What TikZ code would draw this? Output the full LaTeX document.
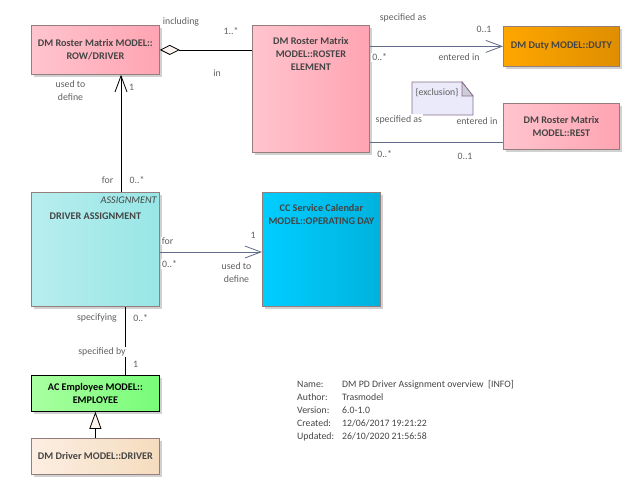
\documentclass[tikz,border=0pt]{standalone}
\usepackage{fontspec}
\setmainfont{Carlito}
\usetikzlibrary{positioning,arrows.meta,shadows}

\definecolor{pinkL}{RGB}{255,196,206}
\definecolor{pinkR}{RGB}{255,164,178}
\definecolor{dutyL}{RGB}{255,166,0}
\definecolor{dutyR}{RGB}{222,142,0}
\definecolor{assignL}{RGB}{184,237,238}
\definecolor{assignR}{RGB}{152,230,230}
\definecolor{dayL}{RGB}{0,206,255}
\definecolor{dayR}{RGB}{0,178,222}
\definecolor{empL}{RGB}{168,255,160}
\definecolor{empR}{RGB}{120,252,120}
\definecolor{drvL}{RGB}{252,238,226}
\definecolor{drvR}{RGB}{245,220,190}
\definecolor{boxline}{RGB}{150,125,125}
\definecolor{boxtext}{RGB}{68,68,68}
\definecolor{lbltext}{RGB}{96,96,96}
\definecolor{linkblue}{RGB}{96,108,136}
\definecolor{notefill}{RGB}{234,234,250}
\definecolor{noteline}{RGB}{140,110,140}
\definecolor{foldfill}{RGB}{205,205,215}
\definecolor{headfill}{RGB}{253,244,240}

\begin{document}
\begin{tikzpicture}[x=1pt,y=-1pt,
  font=\fontsize{9.8}{13}\selectfont,
  classbox/.style={draw=boxline, line width=0.8pt, anchor=north west, inner sep=0pt,
    font=\fontsize{10.2}{13}\selectfont\bfseries, text=boxtext, align=center,
    drop shadow={shadow xshift=3pt, shadow yshift=-3pt, fill=black!18, opacity=1}},
  classname/.style={font=\fontsize{10.2}{13}\selectfont\bfseries, text=boxtext, align=center, inner sep=0pt},
  role/.style={text=lbltext, fill=white, inner sep=1pt, align=center},
  assoc/.style={linkblue, line width=0.8pt},
  link/.style={black, line width=0.8pt},
  openhead/.style={-{Straight Barb[length=16pt,width=12pt]}},
]
\useasboundingbox (0,0) rectangle (630,504);

% classes
\node[classbox, left color=pinkL, right color=pinkR, minimum width=128pt, minimum height=49pt] (rowdriver) at (31,25) {DM Roster Matrix MODEL::\\ROW/DRIVER};
\node[classbox, left color=pinkL, right color=pinkR, minimum width=117pt, minimum height=127pt] (element) at (252,25) {};
\node[classname, below=12pt of element.north] (element-name) {DM Roster Matrix\\MODEL::ROSTER\\ELEMENT};
\node[classbox, left color=dutyL, right color=dutyR, minimum width=116pt, minimum height=40pt] (duty) at (503,26) {DM Duty MODEL::DUTY};
\node[classbox, left color=pinkL, right color=pinkR, minimum width=116pt, minimum height=46pt] (rest) at (503,103) {DM Roster Matrix\\MODEL::REST};
\node[classbox, left color=assignL, right color=assignR, minimum width=128pt, minimum height=114pt] (assign) at (31,192) {};
\node[anchor=north east, inner sep=0pt, text=boxtext, font=\fontsize{10.2}{13}\selectfont\itshape, xshift=-3pt, yshift=-5pt] (assign-stereo) at (assign.north east) {ASSIGNMENT};
\node[classname, below=21pt of assign.north] (assign-name) {DRIVER ASSIGNMENT};
\node[classbox, left color=dayL, right color=dayR, minimum width=118pt, minimum height=114pt] (opday) at (262,192) {};
\node[classname, below=12pt of opday.north] (opday-name) {CC Service Calendar\\MODEL::OPERATING DAY};
\node[classbox, left color=empL, right color=empR, draw=black, text=black, minimum width=128pt, minimum height=36pt] (employee) at (31,375) {AC Employee MODEL::\\EMPLOYEE};
\node[classbox, left color=drvL, right color=drvR, minimum width=128pt, minimum height=36pt] (driver) at (31,438) {DM Driver MODEL::DRIVER};

% note
\filldraw[fill=notefill, draw=noteline, line width=0.8pt] (412,82) -- (462,82) -- (473,96) -- (473,115) -- (412,115) -- cycle;
\filldraw[fill=foldfill, draw=noteline, line width=0.8pt] (462,82) -- (462,96) -- (473,96) -- cycle;
\node[text=lbltext, inner sep=0pt] (exclusion) at (437,93) {\{exclusion\}};

% connectors
\draw[link, {Diamond[length=20pt,width=10pt,fill=headfill]}-] (rowdriver.east) -- (rowdriver.east -| element.west);
\coordinate (upx) at (121,0);
\draw[link, openhead] (assign.north -| upx) -- (rowdriver.south -| upx);
\draw[assoc, openhead] (duty.west -| element.east) -- (duty.west);
\coordinate (resty) at (0,142);
\draw[assoc] (element.east |- resty) -- (rest.west |- resty);
\coordinate (dayy) at (0,252);
\draw[assoc, openhead] (assign.east |- dayy) -- (opday.west |- dayy);
\coordinate (downx) at (125,0);
\draw[link] (assign.south -| downx) -- (employee.north -| downx);
\draw[link, -{Triangle[length=17pt,width=12pt,fill=headfill]}] (driver.north) -- (employee.south);

% roles
\node[role] (r-including) at (181,22) {including};
\node[role] (r-incl-mult) at (231,31) {1..*};
\node[role] (r-in) at (217,73) {in};
\node[role] (r-usedrow) at (70.5,90.5) {used to\\define};
\node[role] (r-row-mult) at (131.5,87) {1};
\node[role] (r-for) at (107.5,180) {for};
\node[role] (r-for-mult) at (137,180) {0..*};
\node[role] (r-specduty) at (403,18) {specified as};
\node[role] (r-duty-mult) at (484,29) {0..1};
\node[role] (r-elem-mult1) at (379.7,57.5) {0..*};
\node[role] (r-enterduty) at (459,57) {entered in};
\node[role] (r-specrest) at (398.8,119.5) {specified as};
\node[role] (r-enterrest) at (477,121) {entered in};
\node[role] (r-elem-mult2) at (384.7,154) {0..*};
\node[role] (r-rest-mult) at (465,156.5) {0..1};
\node[role] (r-forday) at (167.5,241) {for};
\node[role] (r-forday-mult) at (169.5,264) {0..*};
\node[role] (r-day-mult) at (253,235) {1};
\node[role] (r-usedday) at (236.5,273) {used to\\define};
\node[role] (r-specifying) at (97,318) {specifying};
\node[role] (r-spec-mult) at (140.7,318) {0..*};
\node[role] (r-specby) at (102,352) {specified by};
\node[role] (r-emp-mult) at (135.5,364) {1};

% diagram info
\node[anchor=north west, inner sep=0pt, text=boxtext] (info) at (297,378) {%
  \begin{tabular}{@{}p{45pt}@{}l@{}}
  Name: & DM PD Driver Assignment overview\ \ [INFO]\\
  Author: & Trasmodel\\
  Version: & 6.0-1.0\\
  Created: & 12/06/2017 19:21:22\\
  Updated: & 26/10/2020 21:56:58
  \end{tabular}};
\end{tikzpicture}
\end{document}
